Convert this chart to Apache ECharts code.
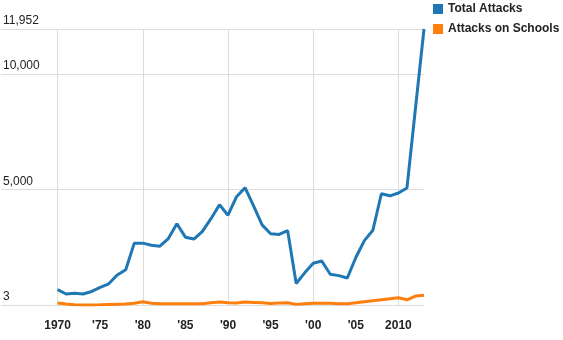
<!DOCTYPE html>
<html>
<head>
<meta charset="utf-8">
<script src="https://cdn.jsdelivr.net/npm/echarts@6/dist/echarts.min.js"></script>
<style>html,body{margin:0;padding:0;background:#fff}#c{width:563px;height:340px}</style>
</head>
<body>
<div id="c"></div>
<script>
const years = [1970,1971,1972,1973,1974,1975,1976,1977,1978,1979,1980,1981,1982,1983,1984,1985,1986,1987,1988,1989,1990,1991,1992,1993,1994,1995,1996,1997,1998,1999,2000,2001,2002,2003,2004,2005,2006,2007,2008,2009,2010,2011,2012,2013];
const totalAttacks = [670,480,510,480,590,770,920,1300,1530,2680,2680,2590,2550,2880,3520,2940,2860,3190,3740,4340,3890,4690,5080,4290,3470,3090,3060,3220,935,1395,1810,1910,1335,1275,1170,2060,2790,3240,4820,4730,4850,5070,8520,11952];
const schoolAttacks = [90,45,10,3,8,12,25,35,45,80,145,75,60,60,60,60,60,60,100,130,100,85,130,115,100,70,85,100,30,60,75,80,75,60,60,100,145,190,230,275,320,230,390,420];
const yTicks = [3,5000,10000,11952];
const xLabelYears = [1970,1975,1980,1985,1990,1995,2000,2005,2010];
const xGridYears = [1970,1980,1990,2000,2010];
const seriesNames = ['Total Attacks','Attacks on Schools'];

const font = '"Liberation Sans", Arial, Helvetica, sans-serif';
const chart = echarts.init(document.getElementById('c'), null, {renderer:'canvas'});
chart.setOption({
  animation: false,
  color: ['#1f77b4','#ff7f0e'],
  legend: {
    orient: 'vertical', left: 433, top: 3, padding: 0, itemWidth: 10, itemHeight: 10, itemGap: 8,
    icon: 'rect',
    textStyle: {fontFamily: font, fontSize: 12, fontWeight: 'bold', color: '#222'},
    data: seriesNames
  },
  grid: {left: 0, right: 139, top: 29, bottom: 35, containLabel: false},
  xAxis: {
    type: 'value', min: 1963.36, max: 2013,
    axisLine: {show: false},
    axisTick: {show: false, customValues: xGridYears},
    splitLine: {show: true, lineStyle: {color: '#dcdcdc', width: 1}},
    axisLabel: {
      customValues: xLabelYears, margin: 15,
      fontFamily: font, fontSize: 12, fontWeight: 'bold', color: '#222',
      formatter: v => (v === 1970 || v === 2010) ? String(v) : "'" + String(v).slice(2)
    }
  },
  yAxis: {
    type: 'value', min: 3, max: 11952,
    axisLine: {show: false},
    axisTick: {show: false, customValues: yTicks},
    splitLine: {show: true, lineStyle: {color: '#dcdcdc', width: 1}},
    axisLabel: {
      customValues: yTicks, inside: true, margin: 2,
      align: 'left', verticalAlign: 'bottom', padding: [0,0,2,0],
      fontFamily: font, fontSize: 12, color: '#222',
      formatter: v => Number(v).toLocaleString('en-US')
    }
  },
  series: [
    {name: seriesNames[0], type: 'line', symbol: 'none', lineStyle: {width: 3},
     data: years.map((y,i) => [y, totalAttacks[i]])},
    {name: seriesNames[1], type: 'line', symbol: 'none', lineStyle: {width: 3},
     data: years.map((y,i) => [y, schoolAttacks[i]])}
  ]
});
</script>
</body>
</html>
